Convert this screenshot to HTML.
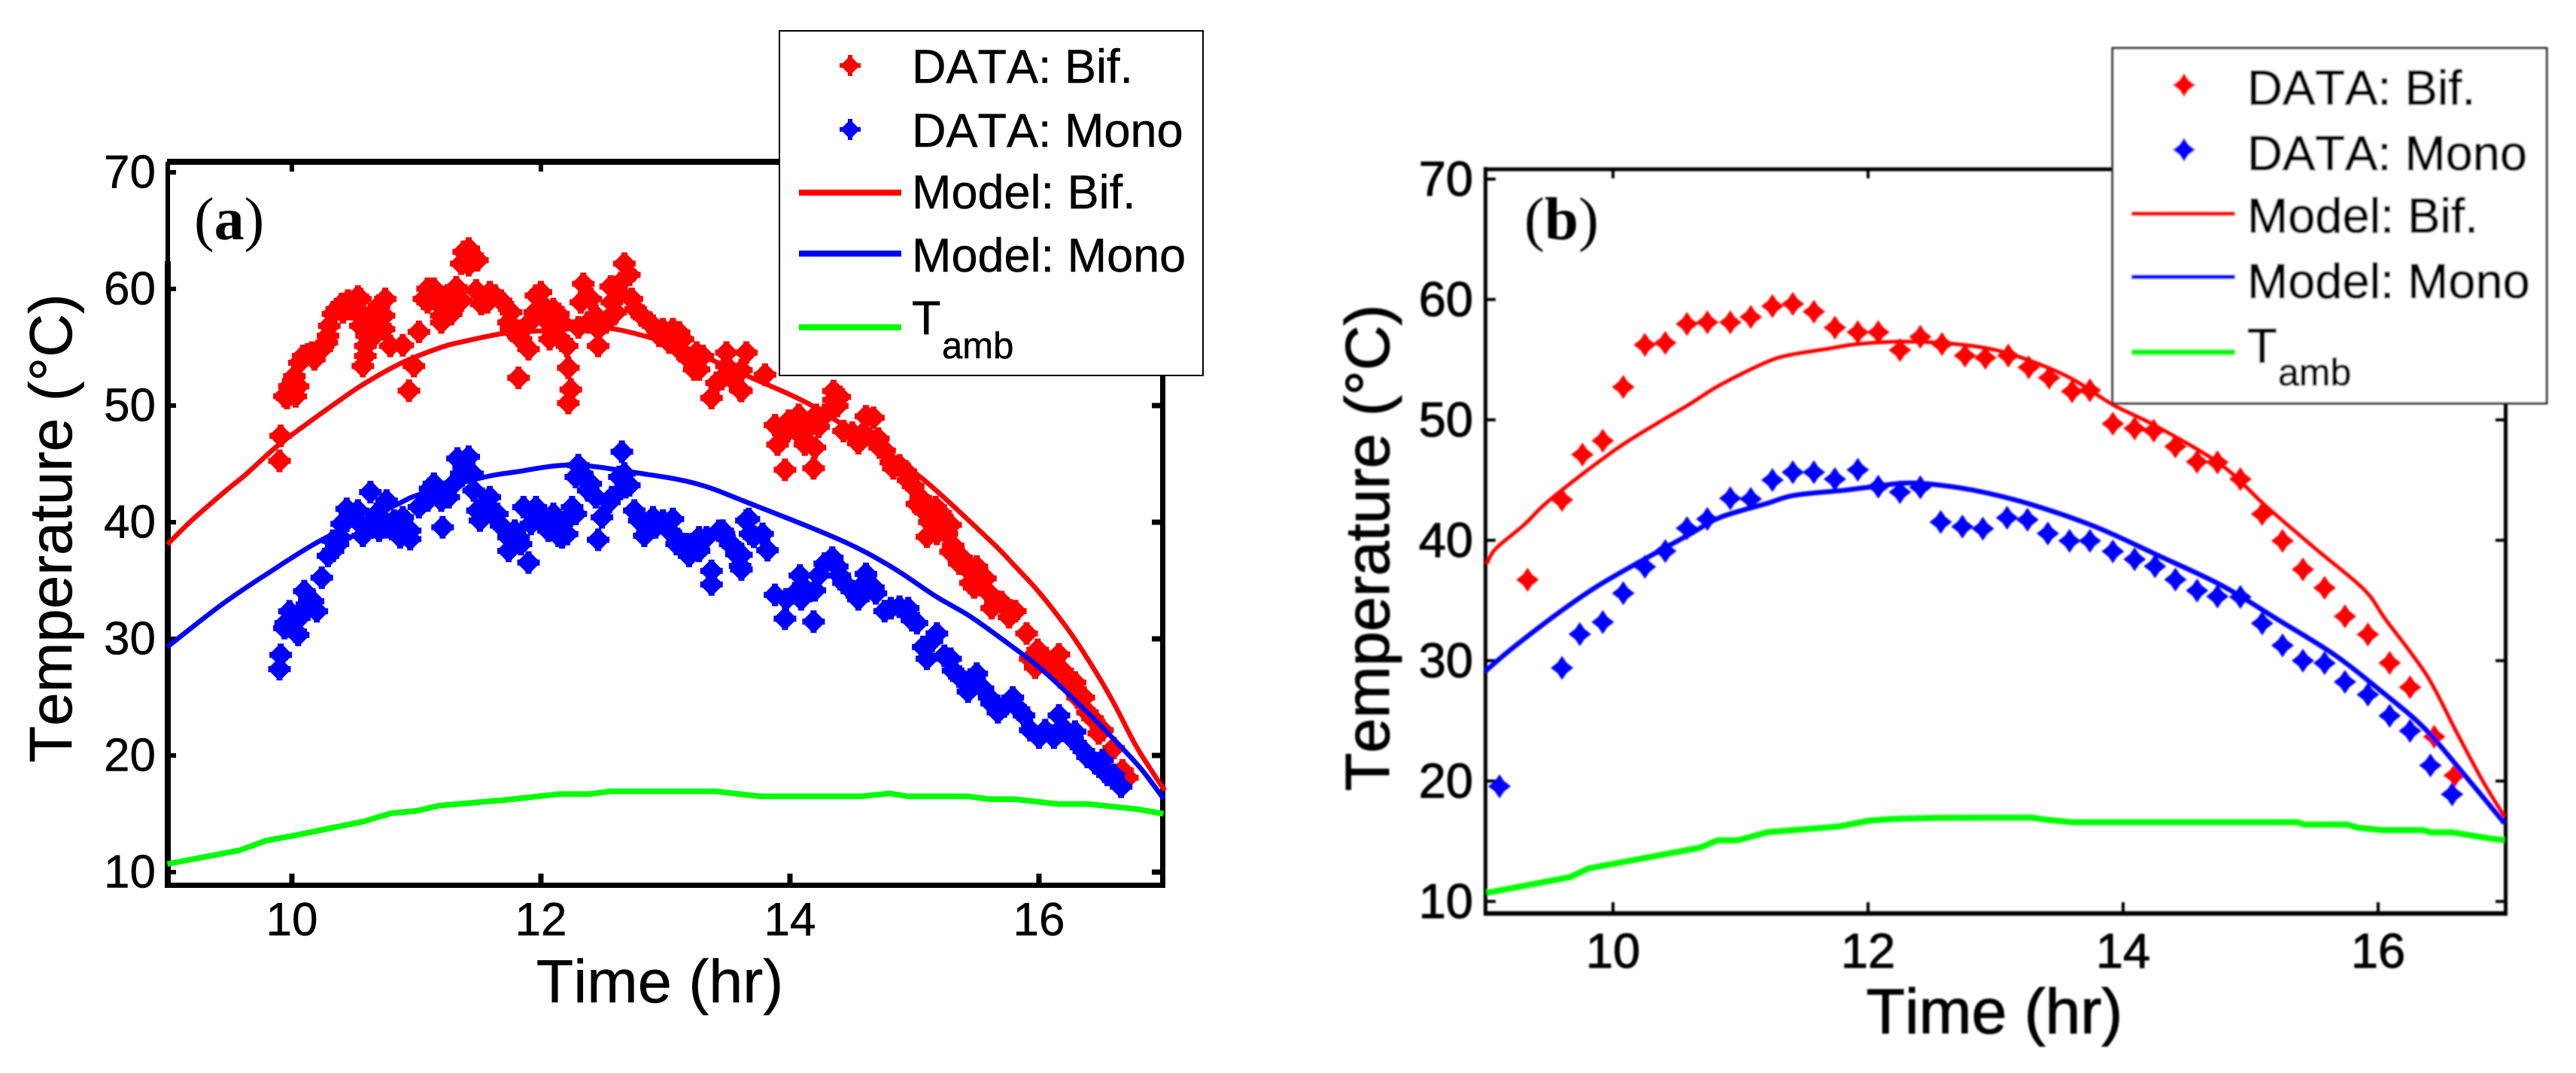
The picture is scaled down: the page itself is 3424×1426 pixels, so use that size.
<!DOCTYPE html>
<html lang="en">
<head>
<meta charset="utf-8">
<title>Temperature vs Time: panels a and b</title>
<style>
html,body{margin:0;padding:0;background:#fff;}
svg{display:block;}
text{font-family:"Liberation Sans",Arial,sans-serif;fill:#000;font-kerning:none;stroke:#000;stroke-width:0.5;}
#panelB text{stroke-width:1.1;}
text.serif{font-family:"Liberation Serif","Times New Roman",serif;stroke-width:0;}
#panelB text.serif{stroke-width:0;}
</style>
</head>
<body>
<svg id="figure" xmlns="http://www.w3.org/2000/svg" width="3424" height="1426" viewBox="0 0 3424 1426">
  <defs>
    <filter id="soft" x="-5%" y="-5%" width="110%" height="110%"><feGaussianBlur stdDeviation="1"/></filter>
  </defs>
  <rect width="3424" height="1426" fill="#fff"/>
  <g id="panelA"></g>
  <g id="panelB" filter="url(#soft)"></g>
</svg>
<script>
// ---------- shared tick labels ----------
var xTickLabels = [10, 12, 14, 16];
var yTickLabels = [10, 20, 30, 40, 50, 60, 70];

// ---------- panel (a) data ----------
var aBifTime = [9.90,9.91,9.96,9.98,10.01,10.02,10.03,10.09,10.13,10.16,10.24,10.29,10.33,10.40,10.45,10.53,10.47,10.55,10.57,10.59,10.63,10.67,10.71,10.74,10.75,10.79,10.89,10.94,10.98,11.02,11.09,11.14,11.06,11.20,11.22,11.28,11.32,11.36,11.42,11.42,11.48,11.52,11.59,11.68,11.74,11.82,11.82,11.90,11.96,12.00,12.06,12.07,12.14,12.17,12.22,12.24,12.22,12.30,12.34,12.32,12.40,12.38,12.46,12.56,12.60,12.67,12.71,12.73,12.81,12.90,12.98,13.06,13.14,13.23,13.30,13.37,13.41,13.49,13.60,13.65,13.61,13.45,13.61,13.80,13.88,13.90,13.96,14.08,14.07,14.09,14.19,14.20,14.21,14.35,14.38,14.43,14.55,14.61,14.72,14.81,14.88,14.95,15.05,15.10,15.17,15.26,15.31,15.38,15.45,15.50,15.57,15.62,15.70,15.76,15.81,15.90,15.97,15.93,16.05,16.16,16.19,16.29,16.36,16.39,16.51,16.60,16.67,16.71];
var aBifTemp = [45.26,47.4,50.65,51.66,51.37,52.52,50.79,54.25,54.39,54.54,54.83,55.98,57.85,58.71,59.0,59.35,58.28,56.84,53.39,55.11,57.71,57.13,56.84,56.55,59.15,55.11,55.17,51.28,53.39,56.32,60.01,60.01,59.15,57.71,58.86,57.85,60.15,59.0,62.03,63.47,59.87,58.71,59.72,59.0,57.13,52.38,55.98,54.83,59.43,59.72,57.13,55.69,57.85,55.55,53.24,51.37,50.22,56.7,60.44,58.86,59.15,57.13,55.11,60.21,57.99,62.17,61.22,59.15,57.71,56.84,56.55,56.55,55.69,53.1,54.25,50.65,51.95,54.54,51.37,54.54,51.25,52.27,53.03,52.65,48.32,46.66,44.49,48.44,49.2,47.42,44.62,46.4,49.2,51.25,49.97,47.81,46.78,49.08,46.4,45.13,44.87,43.6,42.07,38.75,41.3,39.0,37.98,36.96,34.8,36.2,35.18,32.63,33.14,31.86,32.37,30.46,27.52,28.29,28.29,28.67,27.27,26.25,24.97,23.7,22.17,20.64,18.72,18.09];
var aBifTimeMore = [10.01,10.05,9.94,10.06,10.18,10.25,10.28,10.30,10.36,10.41,10.51,10.55,10.63,10.66,10.74,10.70,10.60,10.59,11.11,11.17,11.25,11.20,11.30,11.09,11.36,11.49,11.45,11.38,11.63,11.57,11.76,11.76,11.84,11.91,11.95,12.02,12.10,12.17,12.10,12.21,12.44,12.52,12.46,12.63,12.67,12.57,12.76,12.87,12.95,13.03,13.11,13.19,13.25,13.11,13.27,13.49,13.54,13.98,13.99,14.12,14.16,14.28,14.23,14.35,14.40,14.50,14.59,14.67,14.71,14.76,14.83,14.93,14.99,15.02,15.07,15.12,15.21,15.18,15.29,15.29,15.36,15.43,15.53,15.48,15.60,15.65,15.74,15.99,16.10,16.15,16.24,16.31,16.43,16.48];
var aBifTempMore = [52.1,51.65,50.8,53.67,53.96,55.11,55.4,56.84,58.28,58.0,58.28,59.15,56.27,55.98,57.71,58.57,55.98,54.25,59.15,58.86,59.43,57.13,58.57,58.86,62.17,62.46,62.89,63.18,59.43,58.86,58.0,56.55,55.69,57.13,58.0,58.57,56.27,57.13,58.28,55.11,57.71,57.13,56.55,59.72,60.87,58.86,58.28,57.13,55.98,55.4,54.83,53.96,54.54,56.27,53.1,53.39,52.23,47.8,48.7,46.66,48.19,49.2,48.19,50.48,50.74,47.68,47.68,48.95,47.17,46.15,44.62,44.36,43.09,41.56,41.04,40.02,40.79,39.0,39.77,37.47,36.45,35.94,35.43,34.4,33.9,33.14,32.63,29.06,28.03,27.27,26.0,24.97,23.19,21.9];
var aMonoTime = [9.91,9.90,10.03,9.95,9.98,10.10,10.12,10.20,10.24,10.29,10.33,10.39,10.44,10.53,10.57,10.63,10.63,10.70,10.76,10.79,10.89,10.95,11.02,11.11,11.20,11.21,11.26,11.33,11.42,11.45,11.46,11.51,11.59,11.60,11.68,11.74,11.82,11.86,11.90,11.96,12.02,12.06,12.14,12.21,12.25,12.30,12.33,12.40,12.46,12.49,12.57,12.65,12.67,12.71,12.75,12.83,12.90,12.98,13.06,13.09,13.19,13.27,13.37,13.37,13.46,13.60,13.65,13.43,13.61,13.67,13.71,13.82,13.78,13.88,13.96,14.08,14.09,14.19,14.20,14.34,14.38,14.43,14.55,14.61,14.67,14.76,14.88,14.95,15.02,15.10,15.18,15.24,15.31,15.43,15.50,15.60,15.67,15.79,15.88,16.00,16.12,16.16,16.29,16.36,16.45,16.53,16.60,16.66];
var aMonoTemp = [28.62,27.4,30.63,31.35,32.36,34.09,32.94,32.36,35.24,37.11,38.41,38.7,41.14,41.0,38.84,42.58,39.85,39.27,41.86,39.56,40.42,38.55,41.29,42.87,42.58,39.56,42.15,45.46,45.61,44.17,42.73,40.14,42.15,40.86,39.71,37.54,38.7,41.29,36.54,41.29,40.28,39.27,38.84,38.98,41.29,44.89,44.17,43.3,38.49,40.42,42.15,46.04,44.17,43.16,41.0,38.84,40.42,40.14,40.28,38.12,37.11,38.7,35.82,34.66,39.27,36.25,40.14,39.26,35.94,40.28,38.75,37.6,39.0,33.77,31.73,35.43,33.39,31.48,34.16,36.96,36.2,34.8,33.39,35.56,34.41,32.37,32.75,32.63,31.35,28.29,30.46,28.55,27.27,25.48,27.01,24.97,23.7,24.97,23.44,21.53,21.53,23.44,22.04,20.38,19.36,18.6,18.34,17.32];
var aMonoTimeMore = [9.98,10.06,10.09,10.14,9.94,10.05,10.17,10.33,10.37,10.40,10.49,10.55,10.68,10.74,10.82,10.87,10.95,10.74,10.44,11.09,11.20,11.14,11.30,11.36,11.38,11.49,11.55,11.65,11.74,11.79,11.84,11.92,12.10,12.17,12.28,12.17,12.28,12.38,12.44,12.55,12.68,12.63,12.79,12.92,13.03,13.11,13.17,13.22,13.27,13.33,13.52,13.57,13.47,13.54,13.61,13.68,13.97,14.04,14.11,14.23,14.28,14.40,14.47,14.59,14.69,14.81,14.93,14.98,15.07,15.14,15.29,15.36,15.45,15.55,15.62,15.72,15.84,15.93,16.05,16.19,16.27,16.39,16.51,16.55];
var aMonoTempMore = [31.2,31.8,32.36,33.37,30.92,30.34,33.22,37.54,38.12,39.85,40.71,39.85,40.71,40.14,40.14,38.7,39.27,39.56,40.14,41.86,41.86,43.3,43.3,44.17,44.75,41.0,41.58,40.71,38.7,39.27,38.12,39.85,40.71,39.85,40.71,38.7,43.88,42.73,42.15,41.72,43.0,43.88,40.14,39.56,39.27,38.41,38.12,38.12,37.54,38.7,38.12,37.26,39.0,38.0,37.2,39.0,33.39,33.9,34.41,35.43,36.45,35.43,34.41,34.67,33.9,32.63,32.37,31.6,29.3,29.82,28.29,26.76,26.5,25.74,24.46,24.2,23.95,22.17,22.17,22.42,21.4,19.87,19.6,18.34];
var aModelBifTime = [9.00,9.20,9.47,9.63,9.89,10.18,10.39,10.57,10.87,11.20,11.38,11.71,12.00,12.30,12.57,12.92,13.20,13.50,13.71,14.16,14.60,15.05,15.60,15.81,16.00,16.22,16.39,16.58,16.77,16.91,17.01];
var aModelBifTemp = [38.1,40.2,42.7,44.1,46.6,48.9,50.5,51.8,53.6,55.0,55.5,56.2,56.4,56.6,56.6,55.7,54.7,53.3,52.3,50.1,47.1,43.85,38.5,36.2,34.0,31.0,28.3,24.9,21.0,18.6,17.0];
var aModelMonoTime = [9.00,9.20,9.47,9.79,10.25,10.82,11.03,11.52,11.79,12.25,12.79,13.25,13.68,14.40,14.81,15.17,15.45,15.79,16.03,16.36,16.60,16.82,17.00];
var aModelMonoTemp = [29.3,31.0,33.2,35.5,38.55,41.4,42.4,43.8,44.3,44.9,44.2,43.3,41.6,38.5,36.2,33.65,31.9,29.3,27.3,24.0,21.4,18.85,16.3];
var aAmbTime = [9.00,9.58,9.79,10.03,10.58,10.79,11.00,11.18,11.73,12.15,12.39,12.56,13.40,13.76,14.57,14.80,14.95,15.43,15.60,15.81,16.15,16.39,16.79,17.00];
var aAmbTemp = [10.7,11.87,12.69,13.16,14.35,15.03,15.25,15.7,16.2,16.7,16.7,16.93,16.93,16.5,16.5,16.75,16.5,16.5,16.25,16.25,15.84,15.84,15.4,15.0];

// ---------- panel (b) data ----------
var bBifTime = [9.33,9.60,9.76,9.92,10.08,10.25,10.41,10.58,10.74,10.92,11.08,11.25,11.41,11.575,11.74,11.92,12.08,12.25,12.41,12.58,12.76,12.92,13.10,13.26,13.42,13.60,13.74,13.92,14.09,14.24,14.41,14.58,14.74,14.92,15.09,15.25,15.41,15.58,15.74,15.92,16.09,16.25,16.44,16.60];
var bBifTemp = [36.72,43.35,47.12,48.27,52.74,56.23,56.39,57.97,58.1,58.1,58.55,59.45,59.63,58.99,57.66,57.28,57.28,55.8,56.9,56.3,55.34,55.16,55.34,54.37,53.5,52.37,52.45,49.68,49.29,49.1,47.79,46.52,46.47,45.08,42.18,39.95,37.58,36.05,33.68,32.18,29.81,27.79,23.68,20.47];
var bMonoTime = [9.11,9.60,9.74,9.92,10.08,10.25,10.41,10.58,10.74,10.92,11.08,11.25,11.41,11.575,11.74,11.92,12.08,12.25,12.41,12.57,12.74,12.90,13.09,13.25,13.41,13.58,13.74,13.92,14.09,14.25,14.41,14.58,14.74,14.92,15.09,15.25,15.41,15.58,15.74,15.92,16.09,16.25,16.41,16.58];
var bMonoTemp = [19.56,29.4,32.2,33.2,35.6,37.8,39.1,41.0,41.77,43.48,43.43,45.0,45.65,45.65,45.08,45.85,44.45,44.0,44.4,41.51,41.13,40.96,41.87,41.7,40.56,39.95,39.95,39.08,38.42,37.84,36.74,35.82,35.34,35.29,33.1,31.26,30.0,29.8,28.24,27.18,25.42,24.16,21.3,18.9];
var bModelBifTime = [9.01,9.08,9.30,9.47,9.76,10.07,10.36,10.60,10.84,11.20,11.39,11.68,11.92,12.29,12.69,13.00,13.30,13.60,13.92,14.27,14.77,15.12,15.51,15.89,16.06,16.38,16.61,16.81,16.99];
var bModelBifTemp = [38.07,39.3,41.26,43.04,45.5,47.9,49.8,51.3,52.9,54.78,55.4,55.9,56.3,56.5,56.3,55.8,54.8,53.4,51.26,49.42,46.26,42.84,39.29,35.9,33.4,28.8,24.16,20.2,17.05];
var bModelMonoTime = [9.00,9.23,9.59,9.88,10.19,10.60,10.84,11.20,11.42,11.80,12.00,12.29,12.57,12.90,13.28,13.78,14.27,14.77,15.22,15.66,16.01,16.36,16.68,16.99];
var bModelMonoTemp = [29.14,31.2,34.1,36.2,38.1,40.49,41.9,43.04,43.73,44.14,44.4,44.75,44.57,44.0,42.97,41.13,38.76,36.26,33.37,30.47,27.58,24.42,20.47,16.5];
var bAmbTime = [9.01,9.66,9.81,10.68,10.82,10.98,11.21,11.77,12.01,12.19,12.57,13.28,13.40,13.60,15.37,15.42,15.76,15.84,16.04,16.36,16.41,16.58,16.86,16.99];
var bAmbTemp = [10.71,12.02,12.75,14.46,15.08,15.08,15.75,16.23,16.71,16.85,16.95,16.97,16.79,16.58,16.58,16.39,16.39,16.13,15.92,15.92,15.74,15.74,15.26,15.08];

var NS = 'http://www.w3.org/2000/svg';
var RED = '#ff0000', BLUE = '#0000ff', GREEN = '#00ff00';

function make(tag, attrs, parent) {
  var el = document.createElementNS(NS, tag);
  for (var k in attrs) el.setAttribute(k, attrs[k]);
  parent.appendChild(el);
  return el;
}
function linearScale(v0, p0, v1, p1) {
  return function (v) { return p0 + (v - v0) * (p1 - p0) / (v1 - v0); };
}
var crispMarker = 'M-4,-15L4,-15L4,-12L12,-4L15,-4L15,4L12,4L4,12L4,15L-4,15L-4,12L-12,4L-15,4L-15,-4L-12,-4L-4,-12Z';
var crispLegendMarker = 'M-3,-14L3,-14L3,-10L10,-3L14,-3L14,3L10,3L3,10L3,14L-3,14L-3,10L-10,3L-14,3L-14,-3L-10,-3L-3,-10Z';
var softMarker = 'M0,-16L6,-7L15,0L6,7L0,16L-6,7L-15,0L-6,-7Z';

function drawMarkers(parent, xs, ys, times, temps, color, shape, name) {
  var g = make('g', { fill: color }, parent);
  
  
  for (var i = 0; i < times.length; i++) {
    var m = make('path', { d: shape, transform: 'translate(' + xs(times[i]).toFixed(1) + ' ' + ys(temps[i]).toFixed(1) + ')' }, g);
    
    
  }
}
function drawLine(parent, xs, ys, times, temps, color, width, name) {
  var pts = times.map(function (t, i) { return xs(t).toFixed(1) + ',' + ys(temps[i]).toFixed(1); }).join(' ');
  var l = make('polyline', { points: pts, fill: 'none', stroke: color, 'stroke-width': width, 'stroke-linejoin': 'round' }, parent);
  
  
}
function drawSmoothLine(parent, xs, ys, times, temps, color, width, name) {
  var P = times.map(function (t, i) { return [xs(t), ys(temps[i])]; });
  var d = 'M' + P[0][0].toFixed(1) + ',' + P[0][1].toFixed(1);
  for (var i = 0; i < P.length - 1; i++) {
    var p0 = P[Math.max(0, i - 1)], p1 = P[i], p2 = P[i + 1], p3 = P[Math.min(P.length - 1, i + 2)];
    d += 'C' + (p1[0] + (p2[0] - p0[0]) / 6).toFixed(1) + ',' + (p1[1] + (p2[1] - p0[1]) / 6).toFixed(1) + ' ' +
         (p2[0] - (p3[0] - p1[0]) / 6).toFixed(1) + ',' + (p2[1] - (p3[1] - p1[1]) / 6).toFixed(1) + ' ' +
         p2[0].toFixed(1) + ',' + p2[1].toFixed(1);
  }
  var l = make('path', { d: d, fill: 'none', stroke: color, 'stroke-width': width }, parent);
  
  
}
function drawRect(parent, x, y, w, h, name) {
  var r = make('rect', { x: x, y: y, width: w, height: h, fill: '#000' }, parent);
  
  
}
function drawText(parent, str, x, y, size, anchor, name, extra) {
  var attrs = { x: x, y: y, 'font-size': size, 'text-anchor': anchor };
  for (var k in (extra || {})) attrs[k] = extra[k];
  var t = make('text', attrs, parent);
  t.textContent = str;
  
  
  return t;
}
function drawLegend(parent, o) {
  var g = make('g', {}, parent);
  
  
  var box = make('rect', { x: o.x0, y: o.y0, width: o.x1 - o.x0, height: o.y1 - o.y0, fill: '#fff', stroke: o.border, 'stroke-width': o.bw }, g);
  
  
  var m1 = make('path', { d: o.shape, fill: RED, transform: 'translate(' + o.mx + ' ' + o.my1 + ')' }, g);
  
  
  var m2 = make('path', { d: o.shape, fill: BLUE, transform: 'translate(' + o.mx + ' ' + o.my2 + ')' }, g);
  
  
  var s1 = make('line', { x1: o.lx0, x2: o.lx1, y1: o.ly1, y2: o.ly1, stroke: RED, 'stroke-width': o.lw1 }, g);
  
  
  var s2 = make('line', { x1: o.lx0, x2: o.lx1, y1: o.ly2, y2: o.ly2, stroke: BLUE, 'stroke-width': o.lw2 }, g);
  
  
  var s3 = make('line', { x1: o.lx0, x2: o.lx1, y1: o.ly3, y2: o.ly3, stroke: GREEN, 'stroke-width': o.lw3 }, g);
  
  
  drawText(g, 'DATA: Bif.', o.tx, o.b1, o.fs, 'start', 'legend-label-data-bif');
  drawText(g, 'DATA: Mono', o.tx, o.b2, o.fs, 'start', 'legend-label-data-mono');
  drawText(g, 'Model: Bif.', o.tx, o.b3, o.fs, 'start', 'legend-label-model-bif');
  drawText(g, 'Model: Mono', o.tx, o.b4, o.fs, 'start', 'legend-label-model-mono');
  drawText(g, 'T', o.tx, o.b5, o.fs, 'start', 'legend-label-tamb');
  drawText(g, 'amb', o.sx, o.b6, o.sfs, 'start', 'legend-label-tamb-subscript');
}

// ---------- panel (a) ----------
(function () {
  var p = document.getElementById('panelA');
  var xs = linearScale(10, 388, 12, 719);
  var ys = linearScale(10, 1159, 60, 384);
  drawRect(p, 220, 215, 6, 132, 'y-axis-line-upper');
  drawRect(p, 219, 347, 8, 833, 'y-axis-line-lower');
  drawRect(p, 222, 211, 1325, 8, 'top-axis-line');
  drawRect(p, 222, 1173, 1326, 7, 'x-axis-line');
  drawRect(p, 1542, 215, 7, 965, 'right-axis-line');
  xTickLabels.forEach(function (v) {
    var x = xs(v);
    drawRect(p, x - 3.5, 1161, 7, 12, 'x-tick-' + v);
    drawRect(p, x - 3, 219, 6, 9, 'top-tick-' + v);
    drawText(p, String(v), x, 1243, 62, 'middle', 'x-tick-label-' + v);
  });
  yTickLabels.forEach(function (v) {
    var y = ys(v);
    drawRect(p, 226, y - 3, 8, 6, 'y-tick-' + v);
    drawRect(p, 1531, y - 3.5, 11, 7, 'right-tick-' + v);
    drawText(p, String(v), 207, y + 20.5, 62, 'end', 'y-tick-label-' + v);
  });
  drawText(p, 'Time (hr)', 877, 1332, 81, 'middle', 'x-axis-title');
  drawText(p, 'Temperature (\u00B0C)', 0, 0, 80, 'middle', 'y-axis-title', { transform: 'translate(95 702) rotate(-90)' });
  drawMarkers(p, xs, ys, aBifTime.concat(aBifTimeMore), aBifTemp.concat(aBifTempMore), RED, crispMarker, 'data-bif');
  drawMarkers(p, xs, ys, aMonoTime.concat(aMonoTimeMore), aMonoTemp.concat(aMonoTempMore), BLUE, crispMarker, 'data-mono');
  drawSmoothLine(p, xs, ys, aModelBifTime, aModelBifTemp, RED, 6.5, 'model-bif-line');
  drawSmoothLine(p, xs, ys, aModelMonoTime, aModelMonoTemp, BLUE, 6.5, 'model-mono-line');
  drawLine(p, xs, ys, aAmbTime, aAmbTemp, GREEN, 7.5, 'tamb-line');
  var lab = make('text', { x: 258, y: 318, 'font-size': 80, 'class': 'serif' }, p);
  
  
  lab.innerHTML = '(<tspan font-weight="bold">a</tspan>)';
  drawLegend(p, {
    x0: 1036, y0: 41, x1: 1599, y1: 499, border: '#000', bw: 2, shape: crispLegendMarker,
    mx: 1130, my1: 87, my2: 172, lx0: 1062, lx1: 1198, ly1: 256, ly2: 337, ly3: 435, lw1: 8, lw2: 8, lw3: 8,
    tx: 1212, fs: 63, b1: 110, b2: 195, b3: 277, b4: 361, b5: 444, sx: 1252, sfs: 49, b6: 476
  });
})();

// ---------- panel (b) ----------
(function () {
  var p = document.getElementById('panelB');
  var xs = linearScale(10, 2144, 12, 2483);
  var ys = linearScale(10, 1198, 60, 398);
  drawRect(p, 1972, 222, 5, 995, 'y-axis-line');
  drawRect(p, 1972, 222.5, 1361, 5, 'top-axis-line');
  drawRect(p, 1972, 1211, 1361, 6, 'x-axis-line');
  drawRect(p, 3328, 222, 5, 995, 'right-axis-line');
  xTickLabels.forEach(function (v) {
    var x = xs(v);
    drawRect(p, x - 2, 1199, 4, 12, 'x-tick-' + v);
    drawRect(p, x - 2, 227, 4, 10, 'top-tick-' + v);
    drawText(p, String(v), x, 1286, 65, 'middle', 'x-tick-label-' + v);
  });
  yTickLabels.forEach(function (v) {
    var y = ys(v);
    drawRect(p, 1977, y - 2, 11, 4, 'y-tick-' + v);
    drawRect(p, 3317, y - 2, 11, 4, 'right-tick-' + v);
    drawText(p, String(v), 1958, y + 22, 65, 'end', 'y-tick-label-' + v);
  });
  drawText(p, 'Time (hr)', 2651, 1373, 84, 'middle', 'x-axis-title');
  drawText(p, 'Temperature (\u00B0C)', 0, 0, 83, 'middle', 'y-axis-title', { transform: 'translate(1846 728) rotate(-90)' });
  drawMarkers(p, xs, ys, bBifTime, bBifTemp, RED, softMarker, 'data-bif');
  drawMarkers(p, xs, ys, bMonoTime, bMonoTemp, BLUE, softMarker, 'data-mono');
  drawSmoothLine(p, xs, ys, bModelBifTime, bModelBifTemp, RED, 5, 'model-bif-line');
  drawSmoothLine(p, xs, ys, bModelMonoTime, bModelMonoTemp, BLUE, 6.5, 'model-mono-line');
  drawLine(p, xs, ys, bAmbTime, bAmbTemp, GREEN, 8, 'tamb-line');
  var lab = make('text', { x: 2026, y: 318, 'font-size': 81, 'class': 'serif' }, p);
  
  
  lab.innerHTML = '(<tspan font-weight="bold">b</tspan>)';
  drawLegend(p, {
    x0: 2808, y0: 64, x1: 3385, y1: 536, border: '#222', bw: 3, shape: softMarker,
    mx: 2903, my1: 113, my2: 199, lx0: 2833, lx1: 2971, ly1: 284, ly2: 368, ly3: 468, lw1: 6, lw2: 6, lw3: 8,
    tx: 2987, fs: 65, b1: 139, b2: 226, b3: 309, b4: 396, b5: 482, sx: 3028, sfs: 50, b6: 512
  });
})();
</script>
</body>
</html>
